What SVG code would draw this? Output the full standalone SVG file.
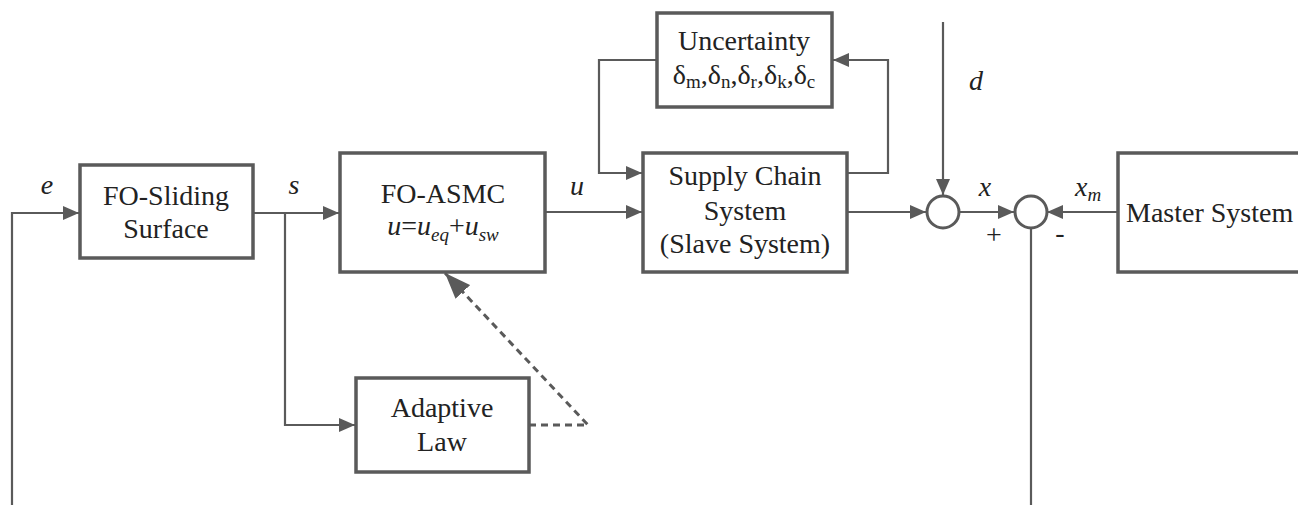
<svg xmlns="http://www.w3.org/2000/svg" width="1298" height="505" viewBox="0 0 1298 505" font-family="'Liberation Serif', 'DejaVu Serif', serif">
<style>
.box{fill:#fff;stroke:#5a5a5a;stroke-width:3.5}
.ln{fill:none;stroke:#5a5a5a;stroke-width:2.2}
.dash{fill:none;stroke:#5a5a5a;stroke-width:3;stroke-dasharray:7 5}
text{font-family:'Liberation Serif','DejaVu Serif',serif;font-size:28px;fill:#222}
.c{text-anchor:middle}
.i{font-style:italic}
.sub{font-size:19px}
</style>
<defs>
<marker id="ah" markerWidth="16" markerHeight="14" refX="16" refY="7" orient="auto" markerUnits="userSpaceOnUse">
<path d="M0,0 L16,7 L0,14 z" fill="#5a5a5a"/>
</marker>
<marker id="big" markerWidth="26" markerHeight="20" refX="26" refY="10" orient="auto" markerUnits="userSpaceOnUse">
<path d="M0,0 L26,10 L0,20 z" fill="#5a5a5a"/>
</marker>
</defs>
<g id="connectors">
<polyline class="ln" points="12,505 12,213 79,213" marker-end="url(#ah)"/>
<polyline class="ln" points="253,213 339,213" marker-end="url(#ah)"/>
<polyline class="ln" points="285,213 285,425 355,425" marker-end="url(#ah)"/>
<polyline class="ln" points="545,212 642,212" marker-end="url(#ah)"/>
<polyline class="ln" points="657,60 599,60 599,173 642,173" marker-end="url(#ah)"/>
<polyline class="ln" points="847,173 888,173 888,60 833,60" marker-end="url(#ah)"/>
<polyline class="ln" points="847,212 926,212" marker-end="url(#ah)"/>
<polyline class="ln" points="943,22 943,195" marker-end="url(#ah)"/>
<polyline class="ln" points="959,212 1014,212" marker-end="url(#ah)"/>
<polyline class="ln" points="1118,212 1047,212" marker-end="url(#ah)"/>
<polyline class="ln" points="1031,228 1031,505"/>
<polyline class="dash" points="529,425 588,425 445,273" marker-end="url(#big)"/>
</g>
<g id="fo-sliding-surface">
<rect class="box" x="80" y="165" width="173" height="93"/>
<text class="c" x="166" y="205">FO-Sliding</text>
<text class="c" x="166" y="238">Surface</text>
</g>
<g id="fo-asmc">
<rect class="box" x="340" y="153" width="205" height="119"/>
<text class="c" x="443" y="203">FO-ASMC</text>
<text class="c" x="443" y="235"><tspan class="i">u</tspan>=<tspan class="i">u</tspan><tspan class="i sub" dy="6">eq</tspan><tspan dy="-6">+</tspan><tspan class="i">u</tspan><tspan class="i sub" dy="6">sw</tspan></text>
</g>
<g id="uncertainty">
<rect class="box" x="657" y="13" width="175" height="94"/>
<text class="c" x="744" y="50">Uncertainty</text>
<text class="c" x="744" y="84">δ<tspan class="sub" dy="4">m</tspan><tspan dy="-4">,δ</tspan><tspan class="sub" dy="4">n</tspan><tspan dy="-4">,δ</tspan><tspan class="sub" dy="4">r</tspan><tspan dy="-4">,δ</tspan><tspan class="sub" dy="4">k</tspan><tspan dy="-4">,δ</tspan><tspan class="sub" dy="4">c</tspan></text>
</g>
<g id="supply-chain">
<rect class="box" x="643" y="153" width="204" height="119"/>
<text class="c" x="745" y="185">Supply Chain</text>
<text class="c" x="745" y="220">System</text>
<text class="c" x="745" y="253">(Slave System)</text>
</g>
<g id="adaptive-law">
<rect class="box" x="356" y="378" width="173" height="94"/>
<text class="c" x="442" y="417">Adaptive</text>
<text class="c" x="442" y="451">Law</text>
</g>
<g id="sum1">
<circle class="ln" cx="943" cy="212" r="16" style="stroke-width:3"/>
</g>
<g id="sum2">
<circle class="ln" cx="1031" cy="212" r="16" style="stroke-width:3"/>
</g>
<g id="master-system">
<rect class="box" x="1118" y="153" width="190" height="119"/>
<text x="1126" y="222">Master System</text>
</g>
<g id="labels">
<text class="i c" x="47" y="194">e</text>
<text class="i c" x="294" y="194">s</text>
<text class="i c" x="577" y="195">u</text>
<text class="i c" x="976" y="90">d</text>
<text class="i c" x="985" y="196">x</text>
<text class="i" x="1075" y="196">x<tspan class="sub" dy="5">m</tspan></text>
<text class="c" x="994" y="244">+</text>
<text class="c" x="1060" y="242">-</text>
</g>
</svg>
